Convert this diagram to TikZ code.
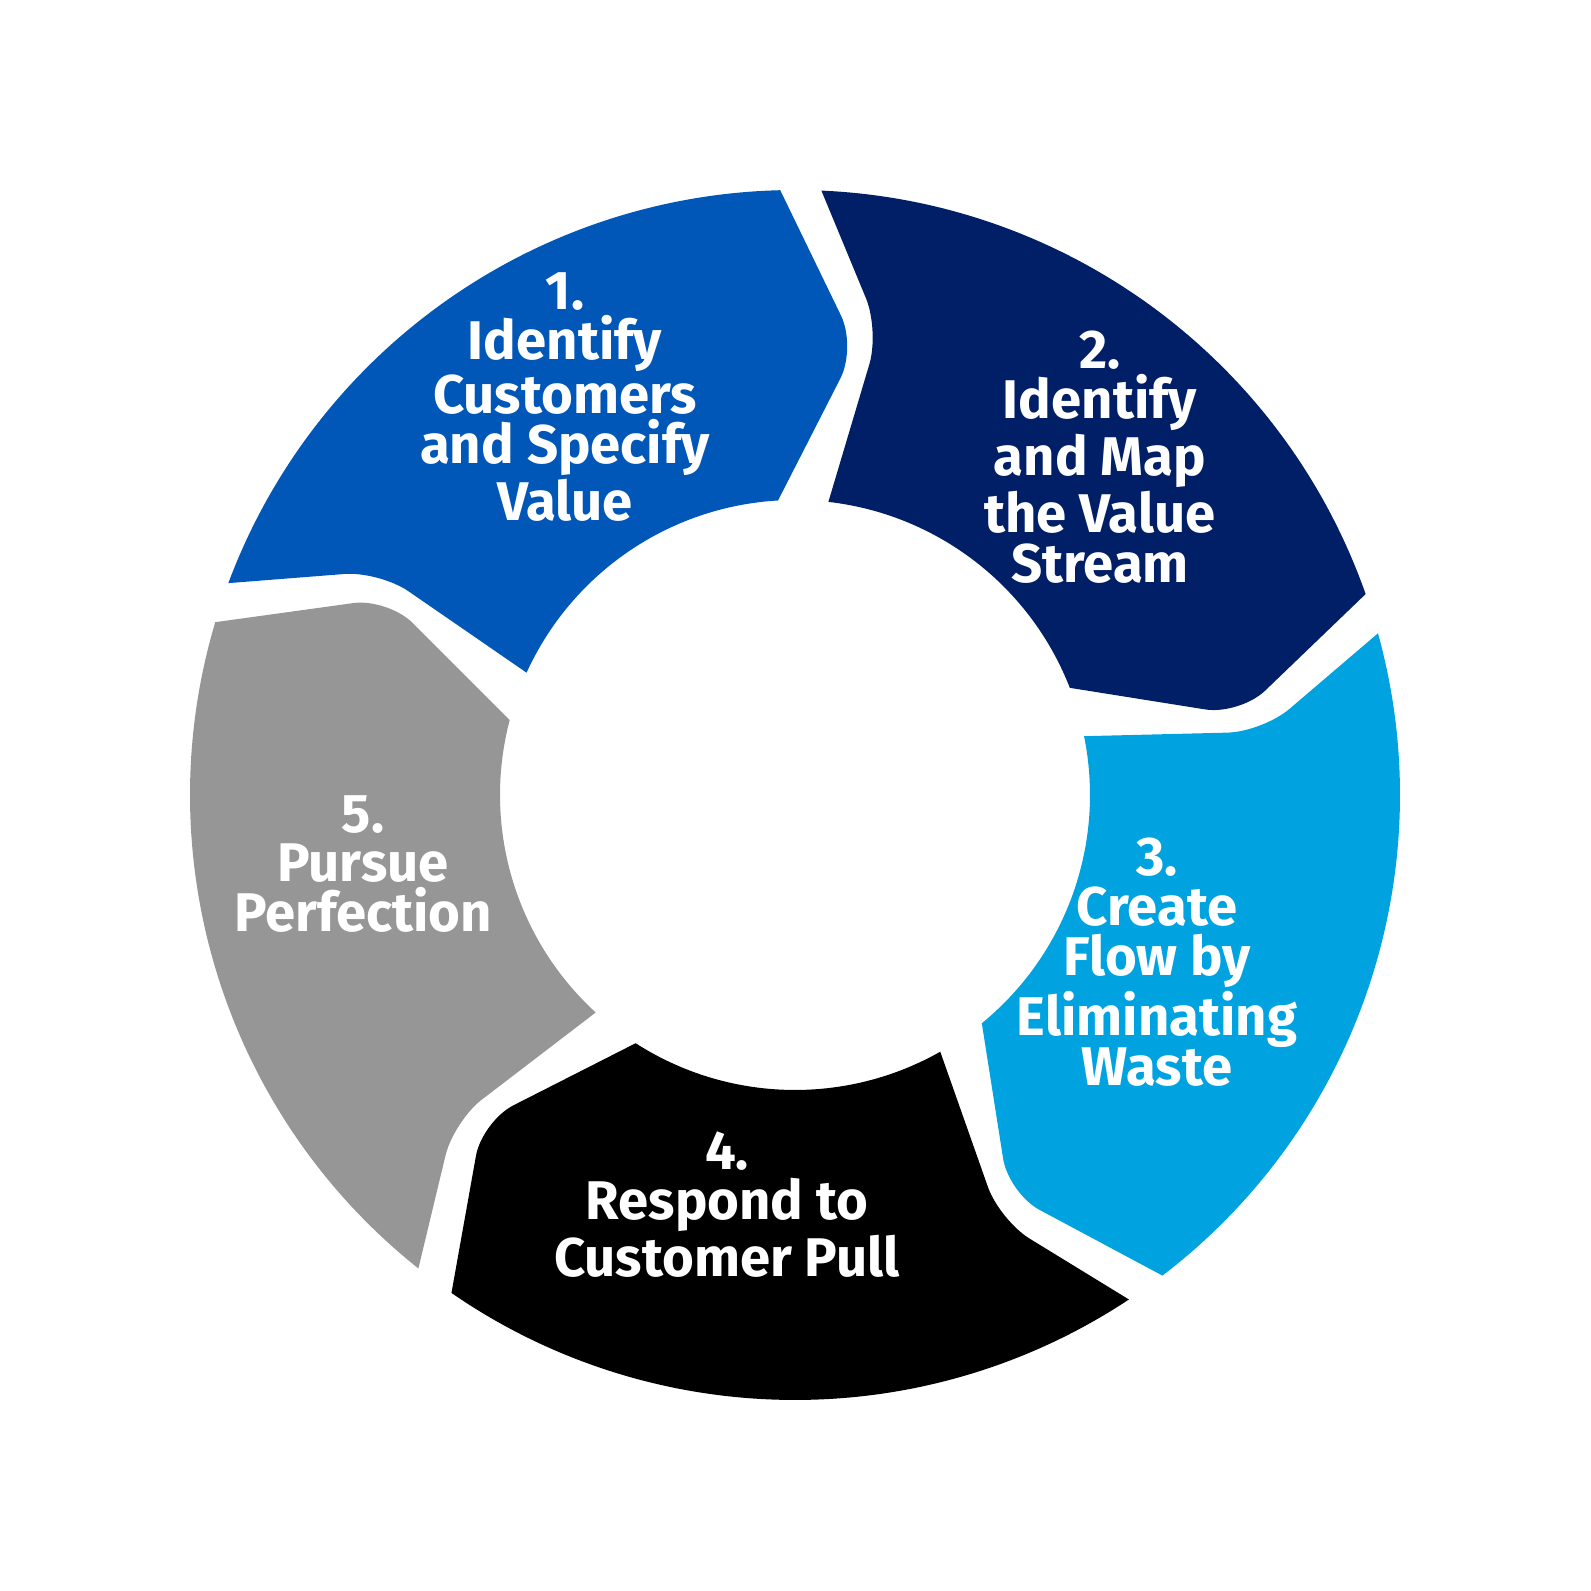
\documentclass[tikz,border=0pt]{standalone}
\usepackage{fontspec}
\setmainfont{Fira Sans}
\definecolor{cA}{RGB}{0,87,183}
\definecolor{cB}{RGB}{0,31,102}
\definecolor{cC}{RGB}{0,163,224}
\definecolor{cD}{RGB}{0,0,0}
\definecolor{cE}{RGB}{150,150,150}
\tikzset{lbl/.style={text=white,align=center,font=\fontsize{15.5}{14.2}\selectfont\bfseries}}
\newcommand{\segm}[2]{%
\pgfmathsetmacro{\Ba}{#1}\pgfmathsetmacro{\Bb}{#1-72}
\fill[#2] (\Ba-2:6.05) arc[start angle=\Ba-2,end angle=\Bb+1.9,radius=6.05]
 [rounded corners=10pt] -- (\Bb-7.3:4.52) [sharp corners] -- (\Bb+3.8:2.95)
 arc[start angle=\Bb+3.8,end angle=\Ba-6,radius=2.95]
 [rounded corners=10pt] -- (\Ba-9.8:4.72) [sharp corners] -- cycle;}
\begin{document}
\begin{tikzpicture}
\useasboundingbox (-7.95,-7.96) rectangle (7.96,7.95);
\segm{161.5}{cA}
\segm{89.5}{cB}
\segm{17.5}{cC}
\segm{-54.5}{cD}
\segm{-126.5}{cE}
\node[lbl] (n1) at (-2.30,3.98) {1.\\Identify\\Customers\\and Specify\\Value};
\node[lbl] (n2) at (3.05,3.38) {2.\\Identify\\and Map\\the Value\\Stream};
\node[lbl] (n3) at (3.62,-1.67) {3.\\Create\\Flow by\\Eliminating\\Waste};
\node[lbl] (n4) at (-0.68,-4.10) {4.\\Respond to\\Customer Pull};
\node[lbl] (n5) at (-4.32,-0.69) {5.\\Pursue\\Perfection};
\end{tikzpicture}
\end{document}
